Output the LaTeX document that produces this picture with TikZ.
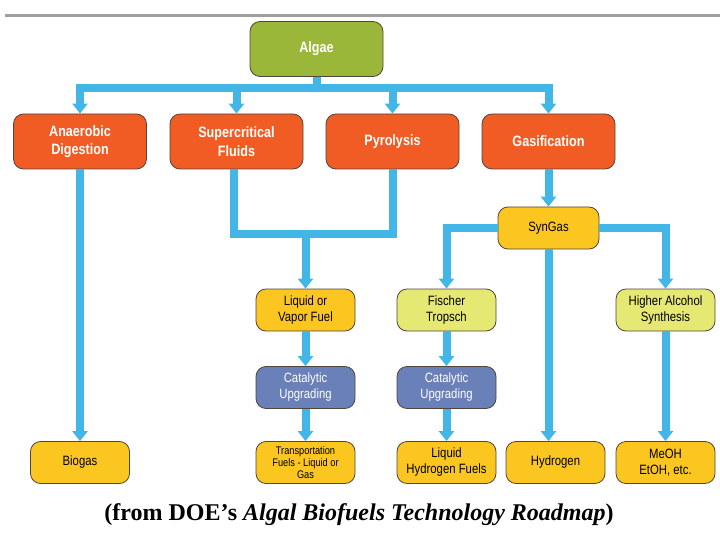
\documentclass[tikz,border=0pt]{standalone}
\usepackage{fontspec}
\setmainfont{Liberation Serif}
\newfontfamily\boxfont[FakeStretch=0.84]{Liberation Sans}
\usetikzlibrary{arrows.meta}
\definecolor{algaegreen}{RGB}{154,183,58}
\definecolor{procorange}{RGB}{240,92,36}
\definecolor{prodyellow}{RGB}{252,198,32}
\definecolor{synthlime}{RGB}{230,232,116}
\definecolor{upgradeblue}{RGB}{106,128,184}
\definecolor{flowblue}{RGB}{66,182,230}
\definecolor{boxedge}{RGB}{80,70,60}
\begin{document}
\begin{tikzpicture}[x=1pt, y=-1pt,
	box/.style={draw=boxedge, line width=0.8pt, rounded corners=10pt, align=center, inner sep=0pt, font=\boxfont},
	bigbox/.style={box, minimum width=133pt, minimum height=55pt, text=white, font=\boxfont\bfseries\fontsize{15}{18.5}\selectfont},
	smallbox/.style={box, minimum width=99pt, minimum height=42pt, font=\boxfont\fontsize{13.5}{16}\selectfont},
	flow/.style={draw=flowblue, line width=8pt, -{Triangle[width=15pt, length=10pt]}},
	flowline/.style={draw=flowblue, line width=8pt}]
	\useasboundingbox (0, 0) rectangle (720, 540);
	\draw[gray!75, line width=3pt] (5, 16) -- (720, 16);
	\node[bigbox, fill=algaegreen] (algae) at (316.5, 49){Algae};
	\node[bigbox, fill=procorange] (anaer) at (80, 141.5){Anaerobic\\Digestion};
	\node[bigbox, fill=procorange] (super) at (236.5, 141.5){Supercritical\\Fluids};
	\node[bigbox, fill=procorange] (pyro) at (392.5, 141.5){Pyrolysis};
	\node[bigbox, fill=procorange] (gasif) at (548.5, 141.5){Gasification};
	\node[smallbox, fill=prodyellow, minimum width=101pt] (syngas) at (548.5, 228){SynGas};
	\node[smallbox, fill=prodyellow] (liquid) at (305.5, 310){Liquid or\\Vapor Fuel};
	\node[smallbox, fill=upgradeblue, text=white] (catalA) at (305.5, 387.5){Catalytic\\Upgrading};
	\node[smallbox, fill=prodyellow, font=\boxfont\fontsize{11}{12}\selectfont] (transp) at (305.5, 462.5){Transportation\\Fuels - Liquid or\\Gas};
	\node[smallbox, fill=synthlime] (fischer) at (446.5, 310){Fischer\\Tropsch};
	\node[smallbox, fill=upgradeblue, text=white] (catalB) at (446.5, 387.5){Catalytic\\Upgrading};
	\node[smallbox, fill=prodyellow] (lhf) at (446.5, 462.5){Liquid\\Hydrogen Fuels};
	\node[smallbox, fill=prodyellow] (hydrogen) at (555.5, 462.5){Hydrogen};
	\node[smallbox, fill=synthlime] (higher) at (665.5, 310){Higher Alcohol\\Synthesis};
	\node[smallbox, fill=prodyellow] (meoh) at (665.5, 462.5){MeOH\\EtOH, etc.};
	\node[smallbox, fill=prodyellow] (biogas) at (80, 462.5){Biogas};
	\coordinate (split) at (316.5, 88);
	\coordinate (merge) at (305.5, 234);
	\draw[flow] (algae.south) -- (split) -| (anaer.north);
	\draw[flow] (algae.south) -- (split) -| (super.north);
	\draw[flow] (algae.south) -- (split) -| (pyro.north);
	\draw[flow] (algae.south) -- (split) -| (gasif.north);
	\draw[flow] (anaer.south) -- (biogas.north);
	\draw[flow] ([xshift=-2.5pt]super.south) |- (merge) -- (liquid.north);
	\draw[flowline] (pyro.south) |- (merge);
	\draw[flow] (liquid.south) -- (catalA.north);
	\draw[flow] (catalA.south) -- (transp.north);
	\draw[flow] (gasif.south) -- (syngas.north);
	\draw[flow] (syngas.west) -| (fischer.north);
	\draw[flow] (syngas.east) -| (higher.north);
	\draw[flow] (syngas.south) -- (syngas.south |- hydrogen.north);
	\draw[flow] (fischer.south) -- (catalB.north);
	\draw[flow] (catalB.south) -- (lhf.north);
	\draw[flow] (higher.south) -- (meoh.north);
	\node[font=\bfseries\fontsize{24}{28}\selectfont] (caption) at (359, 515){(from DOE’s \textit{Algal Biofuels Technology Roadmap})};
\end{tikzpicture}
\end{document}
